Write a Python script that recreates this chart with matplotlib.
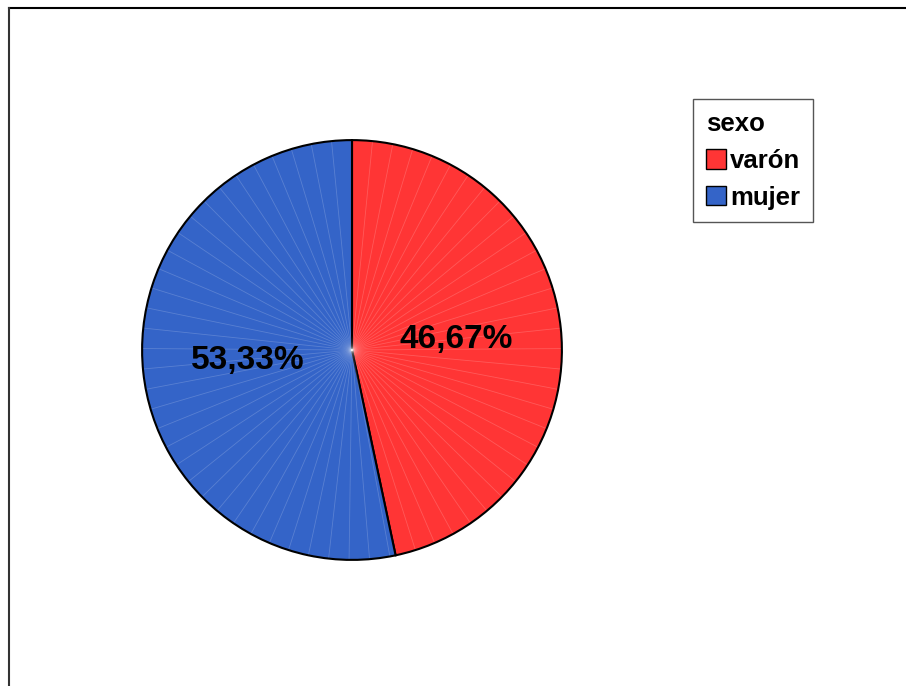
import numpy as np
import matplotlib
matplotlib.use('Agg')
import matplotlib.pyplot as plt
from matplotlib.patches import Patch
from matplotlib.lines import Line2D

# datos del grafico
categorias = ['varón', 'mujer']
porcentajes = [46.67, 53.33]
colores = ['#ff3535', '#3464c8']
titulo_leyenda = 'sexo'

plt.rcParams['font.family'] = ['Liberation Sans', 'DejaVu Sans']

W, H = 906, 686
fig = plt.figure(figsize=(W / 100, H / 100), dpi=100)

# ejes del pastel: centro (352, 350) px, radio 212 px
cx, cy, r = 352, 350, 212
ax = fig.add_axes([(cx - r) / W, (H - cy - r) / H, 2 * r / W, 2 * r / H])
wedges, texts, autotexts = ax.pie(
    porcentajes, colors=colores, startangle=90, counterclock=False,
    autopct=lambda p: ('%.2f%%' % p).replace('.', ','), pctdistance=0.5,
    wedgeprops=dict(edgecolor='black', linewidth=1.5),
    textprops=dict(fontsize=24, fontweight='bold', color='black'))
ax.set_xlim(-1.01, 1.01)
ax.set_ylim(-1.01, 1.01)
ax.set_aspect('equal')
ax.axis('off')

# lineas radiales tenues de las facetas del pastel
for w in wedges:
    t1, t2 = sorted([w.theta1, w.theta2])
    for ang in np.arange(t1 + 5.6, t2 - 1, 5.6):
        a = np.deg2rad(ang)
        ax.plot([0, 0.993 * np.cos(a)], [0, 0.993 * np.sin(a)],
                color='white', alpha=0.18, lw=0.6, zorder=wedges[0].get_zorder() + 0.1)
for t in autotexts:
    t.set_zorder(5)

# leyenda
handles = [Patch(facecolor=c, edgecolor='black', linewidth=1.0) for c in colores]
leg = fig.legend(handles, categorias, title=titulo_leyenda,
                 loc='upper left', bbox_to_anchor=(693 / W, 1 - 99 / H),
                 prop=dict(size=18.5, weight='bold'), title_fontproperties=dict(size=18.5, weight='bold'),
                 handlelength=0.8, handleheight=0.8, handletextpad=0.15,
                 labelspacing=0.5, borderpad=0.5, borderaxespad=0, fancybox=False,
                 framealpha=1, edgecolor='#555555')
leg._legend_box.align = 'left'
leg.get_frame().set_linewidth(1.0)
for t in leg.get_texts():
    t.set_fontstretch('expanded')

# marco superior e izquierdo
fig.add_artist(Line2D([9 / W, 1], [1 - 8 / H, 1 - 8 / H], color='black', lw=1.5, transform=fig.transFigure))
fig.add_artist(Line2D([9 / W, 9 / W], [0, 1 - 8 / H], color='#333333', lw=1.5, transform=fig.transFigure))

fig.savefig('out.png', dpi=100)
